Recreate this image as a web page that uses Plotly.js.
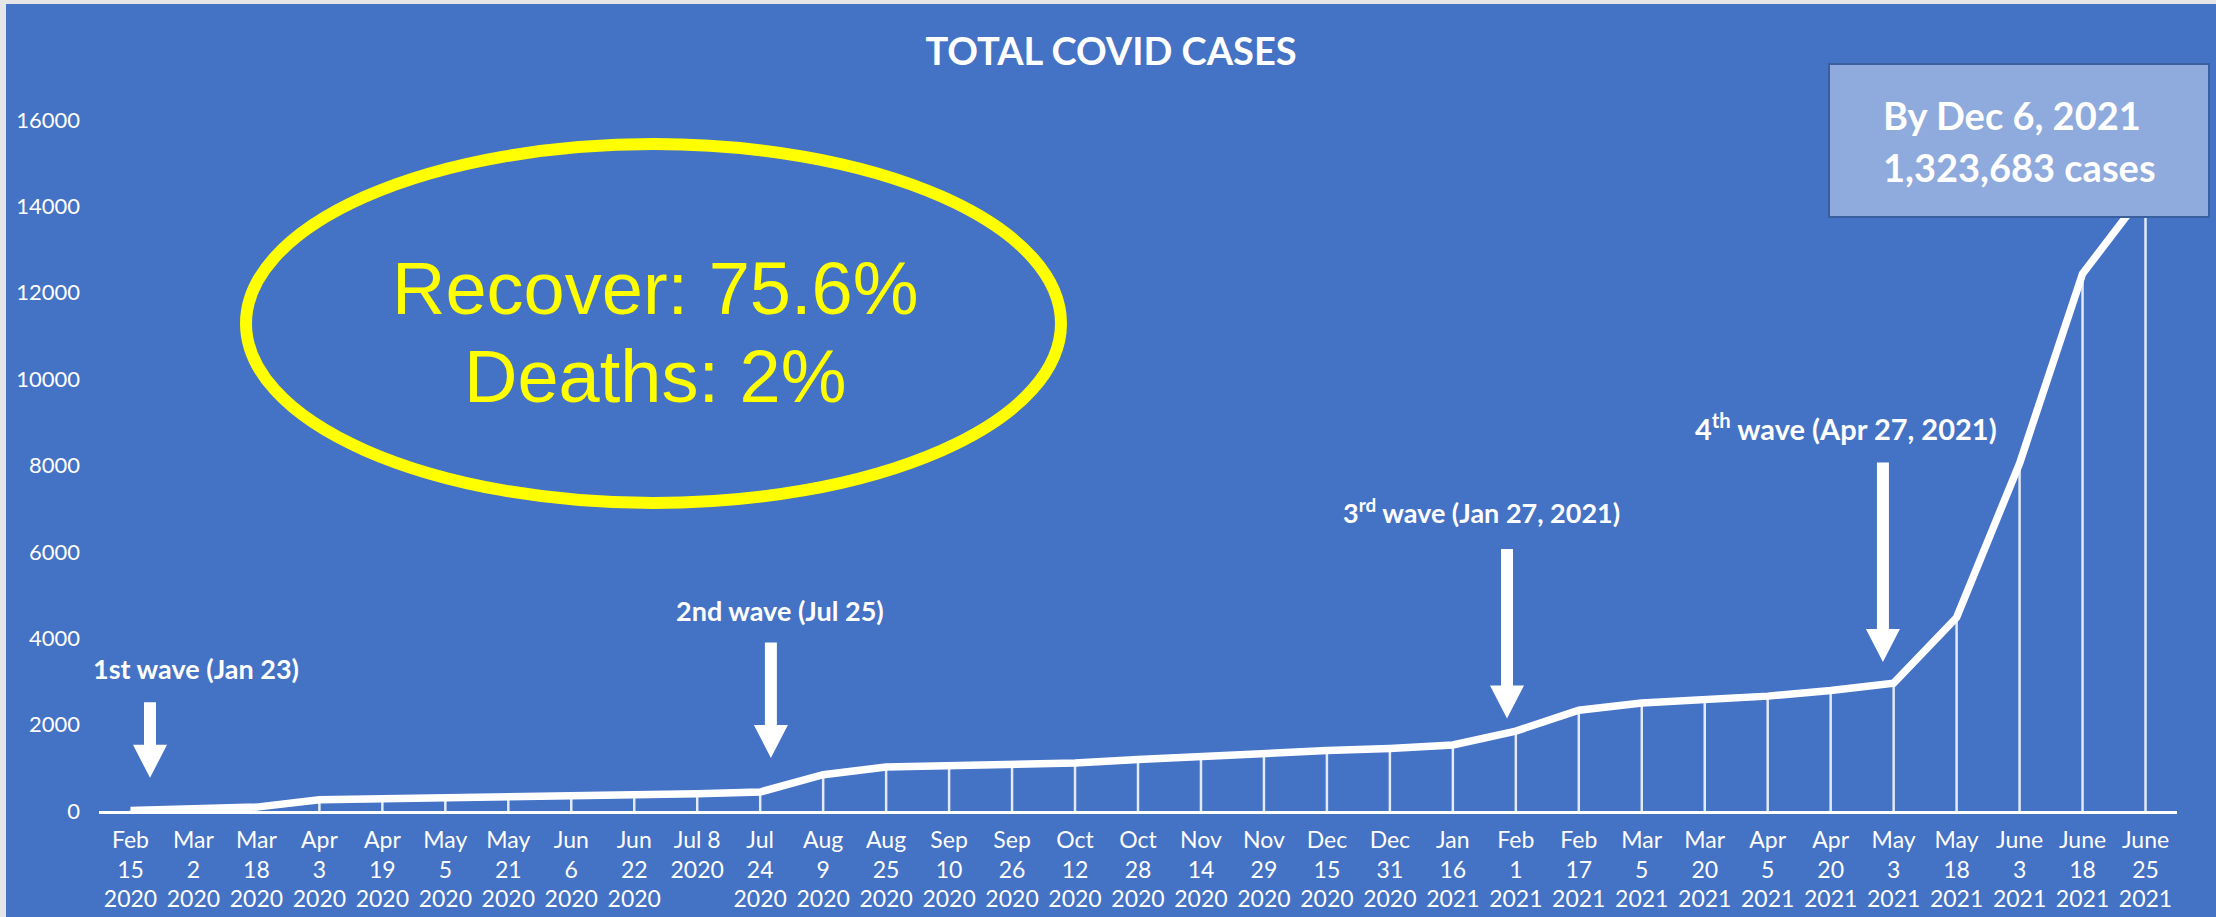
<!DOCTYPE html>
<html>
<head>
<meta charset="utf-8">
<script src="https://cdn.plot.ly/plotly-3.0.1.min.js"></script>
<style>
html,body{margin:0;padding:0;background:#e6e6e6;width:2216px;height:917px;overflow:hidden;}
#chart{position:absolute;left:6px;top:4px;width:2210px;height:913px;}
</style>
</head>
<body>
<div id="chart"></div>
<script>
// ---------- DATA ----------
const dateLabels = [
  "Feb<br>15<br>2020", "Mar<br>2<br>2020", "Mar<br>18<br>2020", "Apr<br>3<br>2020",
  "Apr<br>19<br>2020", "May<br>5<br>2020", "May<br>21<br>2020", "Jun<br>6<br>2020",
  "Jun<br>22<br>2020", "Jul 8<br>2020", "Jul<br>24<br>2020", "Aug<br>9<br>2020",
  "Aug<br>25<br>2020", "Sep<br>10<br>2020", "Sep<br>26<br>2020", "Oct<br>12<br>2020",
  "Oct<br>28<br>2020", "Nov<br>14<br>2020", "Nov<br>29<br>2020", "Dec<br>15<br>2020",
  "Dec<br>31<br>2020", "Jan<br>16<br>2021", "Feb<br>1<br>2021", "Feb<br>17<br>2021",
  "Mar<br>5<br>2021", "Mar<br>20<br>2021", "Apr<br>5<br>2021", "Apr<br>20<br>2021",
  "May<br>3<br>2021", "May<br>18<br>2021", "June<br>3<br>2021", "June<br>18<br>2021",
  "June<br>25<br>2021"
];
const totalCases = [
  10, 30, 90, 260, 280, 290, 340, 350, 370, 400, 440, 840,
  1020, 1040, 1070, 1110, 1190, 1270, 1350, 1400, 1450, 1530, 1850, 2335,
  2500, 2560, 2660, 2790, 2960, 4480, 8050, 12440, 14350
];
const yTickValues = [0, 2000, 4000, 6000, 8000, 10000, 12000, 14000, 16000];
const yTickLabels = ["0", "2000", "4000", "6000", "8000", "10000", "12000", "14000", "16000"];
const chartTitle = "TOTAL COVID CASES";
const waveLabels = [
  "1st wave (Jan 23)",
  "2nd wave (Jul 25)",
  "3<sup>rd</sup> wave (Jan 27, 2021)",
  "4<sup>th</sup> wave (Apr 27, 2021)"
];
// wave arrows: category position, arrow top value, arrow tip value
const waveArrowIndex = [0.31, 10.17, 21.86, 27.83];
const waveArrowTop = [2520, 3900, 6066, 8068];
const waveArrowTip = [768, 1230, 2139, 3450];
const ratesText = ["Recover: 75.6%", "Deaths: 2%"];
const boxText = ["By Dec 6, 2021", "1,323,683 cases"];

// ---------- GEOMETRY (page pixels) ----------
const OFF_X = 6, OFF_Y = 4, DIV_W = 2210, DIV_H = 913;
const L_PX = 99, R_PX = 2177, T_PX = 120, B_PX = 811;
const N = dateLabels.length, YMAX = 16000;
function pxX(i){ return L_PX + (i + 0.5) * (R_PX - L_PX) / N; }
function pxY(v){ return B_PX - v / YMAX * (B_PX - T_PX); }
function paperX(px){ return (px - L_PX) / (R_PX - L_PX); }
function paperY(py){ return (B_PX - py) / (B_PX - T_PX); }

const FONT = "Lato, 'Open Sans', sans-serif";
const BLUE = "#4472c4";

// drop lines
const dropX = [], dropY = [];
dateLabels.forEach((c, i) => { dropX.push(c, c, c); dropY.push(0, totalCases[i], null); });

const traces = [
  {x: dropX, y: dropY, type: "scatter", mode: "lines",
   line: {color: "rgba(255,255,255,0.85)", width: 2.5}, hoverinfo: "skip", showlegend: false},
  {x: dateLabels, y: totalCases, type: "scatter", mode: "lines",
   line: {color: "#ffffff", width: 7.5}, showlegend: false}
];

// arrows as polygons
function arrowPath(i, topV, tipV){
  const cx = pxX(i), top = pxY(topV), tip = pxY(tipV);
  const sw = 12, hw = 34, hl = 33;
  const pts = [[cx - sw/2, top], [cx + sw/2, top], [cx + sw/2, tip - hl], [cx + hw/2, tip - hl],
               [cx, tip], [cx - hw/2, tip - hl], [cx - sw/2, tip - hl]];
  return "M" + pts.map(p => paperX(p[0]).toFixed(5) + "," + paperY(p[1]).toFixed(5)).join(" L") + " Z";
}

const shapes = [];
waveArrowIndex.forEach((ix, k) => {
  shapes.push({type: "path", xref: "paper", yref: "paper", path: arrowPath(ix, waveArrowTop[k], waveArrowTip[k]),
               fillcolor: "#ffffff", line: {width: 0}, layer: "above"});
});
// yellow ellipse
shapes.push({type: "circle", xref: "paper", yref: "paper",
  x0: paperX(246), x1: paperX(1061), y0: paperY(503), y1: paperY(144),
  line: {color: "#ffff00", width: 12}, fillcolor: "rgba(0,0,0,0)", layer: "above"});
// info box
shapes.push({type: "rect", xref: "paper", yref: "paper",
  x0: paperX(1829), x1: paperX(2209), y0: paperY(217), y1: paperY(64),
  fillcolor: "#8faadc", line: {color: "#3a5f9f", width: 2}, layer: "above"});

const wavePos = [[196, 668], [780, 610], [1481, 511], [1846, 427]];
const waveSize = [27, 27, 27, 29];
const annotations = [];
waveLabels.forEach((t, k) => {
  annotations.push({text: "<b>" + t + "</b>", xref: "paper", yref: "paper",
    x: paperX(wavePos[k][0]), y: paperY(wavePos[k][1]), xanchor: "center", yanchor: "middle",
    showarrow: false, font: {family: FONT, size: waveSize[k], color: "#ffffff"}});
});
const ratePos = [288, 376];
ratesText.forEach((t, k) => {
  annotations.push({text: t, xref: "paper", yref: "paper",
    x: paperX(655), y: paperY(ratePos[k]), xanchor: "center", yanchor: "middle",
    showarrow: false, font: {family: "'Liberation Sans', Arial, sans-serif", size: 74, color: "#ffff00"}});
});
const boxPos = [115, 167];
boxText.forEach((t, k) => {
  annotations.push({text: "<b>" + t + "</b>", xref: "paper", yref: "paper",
    x: paperX(1881), y: paperY(boxPos[k]), xanchor: "left", yanchor: "middle",
    showarrow: false, font: {family: FONT, size: 38, color: "#ffffff"}});
});

const layout = {
  width: DIV_W, height: DIV_H,
  paper_bgcolor: BLUE, plot_bgcolor: BLUE,
  margin: {l: L_PX - OFF_X, r: (OFF_X + DIV_W) - R_PX, t: T_PX - OFF_Y, b: (OFF_Y + DIV_H) - B_PX, pad: 0},
  title: {text: "<b>" + chartTitle + "</b>", font: {family: FONT, size: 38, color: "#ffffff"},
          xref: "container", x: 0.5, xanchor: "center", yref: "container", y: 1 - (52 - OFF_Y) / DIV_H, yanchor: "middle"},
  xaxis: {type: "category", range: [-0.5, N - 0.5], showline: true, linecolor: "#ffffff", linewidth: 3,
          showgrid: false, zeroline: false, ticks: "", tickangle: 0, ticklabelstandoff: 6,
          tickfont: {family: FONT, size: 23, color: "#ffffff"}},
  yaxis: {range: [0, YMAX], tickmode: "array", tickvals: yTickValues, ticktext: yTickLabels,
          showgrid: false, zeroline: false, showline: false, ticks: "", ticklabelstandoff: 18,
          tickfont: {family: FONT, size: 22, color: "#ffffff"}},
  shapes: shapes,
  annotations: annotations,
  showlegend: false
};

Plotly.newPlot("chart", traces, layout, {displayModeBar: false, staticPlot: true});
</script>
</body>
</html>
